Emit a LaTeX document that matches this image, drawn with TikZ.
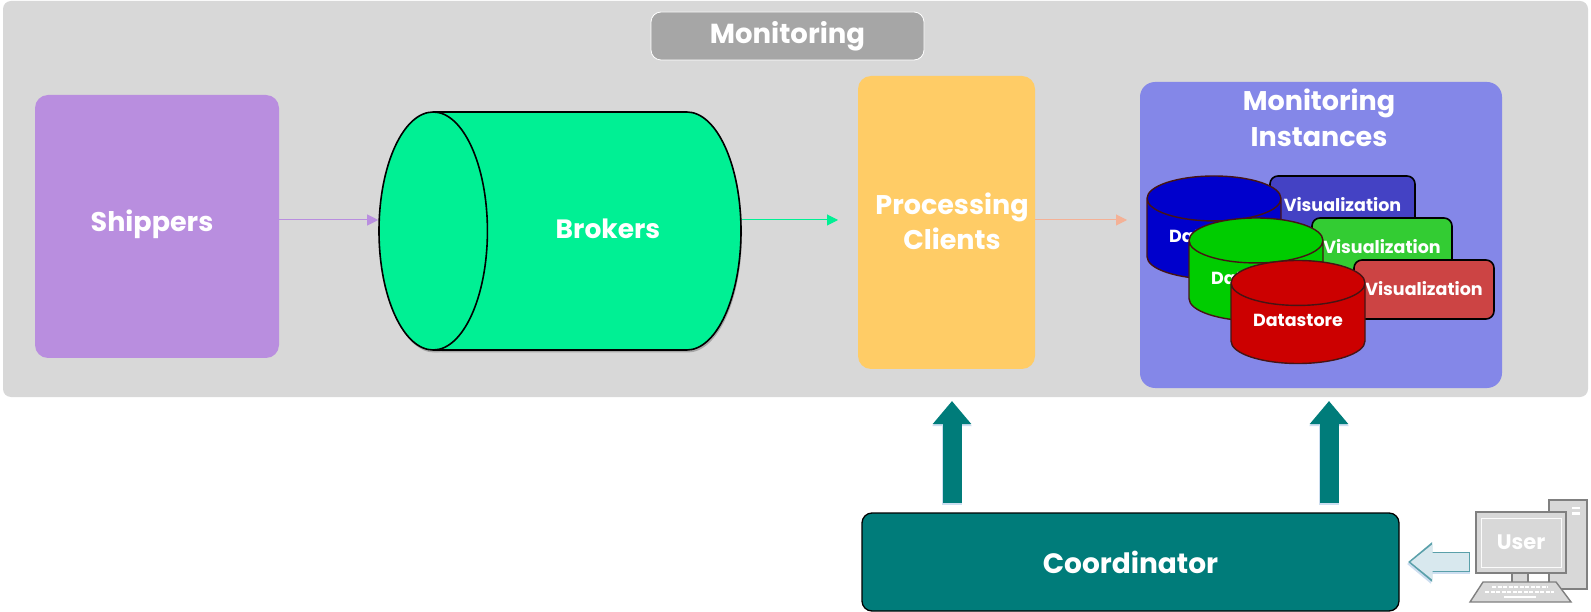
\documentclass[tikz,border=0pt]{standalone}
\usepackage{fontspec}
\setmainfont{Poppins}
\usepackage{tikz}
\usetikzlibrary{
  arrows.meta,
  positioning,
  shapes.geometric
}
\definecolor{panelgray}{RGB}{216,216,216}
\definecolor{taggray}{RGB}{166,166,166}
\definecolor{shipperpurple}{RGB}{185,142,223}
\definecolor{brokergreen}{RGB}{0,240,148}
\definecolor{clientorange}{RGB}{255,204,102}
\definecolor{arroworange}{RGB}{244,177,150}
\definecolor{instanceblue}{RGB}{132,135,232}
\definecolor{coordteal}{RGB}{0,124,122}
\definecolor{paleblue}{RGB}{216,232,238}
\definecolor{shadowblue}{RGB}{205,222,240}
\definecolor{outlineteal}{RGB}{90,160,170}
\definecolor{maroon}{RGB}{70,20,20}
\definecolor{pcgray}{RGB}{128,128,128}
\definecolor{vizblue}{RGB}{68,66,196}
\definecolor{vizgreen}{RGB}{51,204,51}
\definecolor{vizred}{RGB}{204,68,68}
\definecolor{storeblue}{RGB}{0,0,204}
\definecolor{storegreen}{RGB}{0,204,0}
\definecolor{storered}{RGB}{204,0,0}

\begin{document}
\begin{tikzpicture}[
            x=1pt, y=-1pt,
            box/.style={rectangle, inner sep=0pt, outer sep=0pt, align=center, text=white},
            txt/.style={inner sep=0pt, align=center, text=white, font=\fontsize{#1}{35.5}\selectfont\bfseries},
            viz/.style={box, draw=black, line width=1.6pt, rounded corners=8pt, minimum width=140pt, minimum height=59pt, font=\fontsize{17.5}{21}\selectfont\bfseries},
            store/.style={cylinder, shape border rotate=90, aspect=0.5, anchor=shape center, draw=maroon, line width=1.4pt, minimum width=134pt, minimum height=103pt, inner sep=0pt, text=white, cylinder uses custom fill, cylinder body fill=#1, cylinder end fill=#1, font=\fontsize{17.5}{21}\selectfont\bfseries},
            pipe/.style={cylinder, shape border rotate=180, aspect=5.47, anchor=shape center, minimum width=238pt, minimum height=362pt, inner sep=0pt, text=white, cylinder uses custom fill, cylinder body fill=#1, cylinder end fill=#1, font=\fontsize{26.5}{32}\selectfont\bfseries},
            flow/.style={line width=1pt, -{Triangle[length=11pt,width=11pt]}}
        ]
            \useasboundingbox (0,0) rectangle (1591,612);
            % Monitoring panel
            \node[box, fill=panelgray, rounded corners=8pt, minimum width=1585pt, minimum height=396pt] (panel) at (795.5,199) {};
            \node[box, fill=taggray, draw=white, line width=0.8pt, rounded corners=10pt, minimum width=273pt, minimum height=48pt, font=\fontsize{27.5}{32}\selectfont\bfseries] (tag) at (787.5,36) {\raisebox{-1pt}{Monitoring}};
            % Shippers
            \node[box, fill=shipperpurple, rounded corners=13pt, minimum width=244pt, minimum height=263pt] (shippers) at (157,226.5) {};
            \node[txt=27] (shipperstxt) at (152,224) {Shippers};
            % Brokers
            \node[pipe=taggray] (brokersback) at (561,233.5) {\phantom{Brokers}};
            \node[pipe=brokergreen, draw=black, line width=1.6pt] (brokers) at (560,231) {\phantom{Brokers}};
            \node[txt=26.5] (brokerstxt) at (608,229) {Brokers};
            % Processing clients
            \node[box, fill=clientorange, rounded corners=13pt, minimum width=177pt, minimum height=293pt] (clients) at (946.5,222.5) {};
            \node[txt=27] (clientstxt) at (952,221.5) {Processing\\Clients};
            % Monitoring instances
            \node[box, fill=instanceblue, rounded corners=15pt, minimum width=362pt, minimum height=306pt] (instances) at (1321,235) {};
            \node[txt=27] (instancestxt) at (1319,118) {Monitoring\\Instances};
            % Visualization and datastore stacks
            \node[viz, fill=vizblue, minimum width=145pt] (vizb) at (1342.5,205.5) {\raisebox{2pt}{Visualization}};
            \node[store=storeblue] (storeb) at (1214,227.5) {\raisebox{6pt}{Datastore}};
            \node[viz, fill=vizgreen] (vizg) at (1382,247.5) {\raisebox{2pt}{Visualization}};
            \node[store=storegreen] (storeg) at (1256,269.5) {\raisebox{6pt}{Datastore}};
            \node[viz, fill=vizred] (vizr) at (1424,289.5) {\raisebox{2pt}{Visualization}};
            \node[store=storered] (storer) at (1298,312) {\raisebox{6pt}{Datastore}};
            % Thin flow arrows
            \coordinate (flowline) at (0,220);
            \draw[flow, draw=shipperpurple, fill=shipperpurple] (shippers.east |- flowline) -- (brokers.west |- flowline);
            \draw[flow, draw=brokergreen, fill=brokergreen, shorten >=20pt] (brokers.east |- flowline) -- (clients.west |- flowline);
            \draw[flow, draw=arroworange, fill=arroworange, shorten >=13pt] (clients.east |- flowline) -- (instances.west |- flowline);
            % Coordinator
            \node[box, fill=coordteal, draw=black, line width=1.3pt, rounded corners=10pt, minimum width=537pt, minimum height=98pt, font=\fontsize{28}{32}\selectfont\bfseries] (coordinator) at (1130.5,562) {\raisebox{-2pt}{Coordinator}};
            % Block arrows up from the coordinator
            \coordinate (clientsin) at (952,401);
            \coordinate (instancesin) at (1329,401);
            \foreach \target in {clientsin, instancesin} {
                \draw[shadowblue, line width=20pt, shorten <=8pt, -{Triangle[length=23pt,width=38pt]}] (coordinator.north -| \target) -- ([yshift=-2pt]\target);
                \draw[coordteal, line width=19pt, shorten <=10pt, -{Triangle[length=23pt,width=37pt]}] (coordinator.north -| \target) -- (\target);
            }
            % User computer
            \node[box, fill=panelgray, draw=pcgray, line width=1.4pt, minimum width=38pt, minimum height=89pt] (tower) at (1568,544.5) {};
            \draw[white, line width=2.5pt] (1572,508) -- (1580,508);
            \draw[white, line width=2.5pt] (1572,513.5) -- (1580,513.5);
            \node[box, fill=panelgray, draw=pcgray, line width=1.4pt, minimum width=16pt, minimum height=10pt] (neck) at (1520,578) {};
            \node[box, fill=panelgray, draw=pcgray, line width=1.4pt, minimum width=90pt, minimum height=61pt] (monitor) at (1521,542.5) {};
            \node[box, draw=white!90!panelgray, line width=1pt, minimum width=80pt, minimum height=49pt, font=\fontsize{21}{25}\selectfont\bfseries] (screen) at (monitor.center) {User};
            \draw[draw=pcgray, fill=panelgray, line width=1.4pt] (1483,582) -- (1556,582) -- (1571,602) -- (1470,602) -- cycle;
            \foreach \row/\from/\to in {587/1492/1548, 592/1485/1554} {
                \draw[white, line width=2.5pt, dash pattern=on 4pt off 1.5pt] (\from,\row) -- (\to,\row);
            }
            \draw[white, line width=2.5pt] (1504,597) -- (1536,597);
            % Arrow from the user
            \draw[shadowblue, line width=20pt, shorten <=6pt, shorten >=8pt, -{Triangle[length=24pt,width=38pt]}] ([yshift=-2pt]monitor.west |- coordinator.east) -- ([yshift=-2pt]coordinator.east);
            \draw[outlineteal, line width=20pt, shorten <=6pt, shorten >=9pt, -{Triangle[length=24pt,width=38pt]}] (monitor.west |- coordinator.east) -- (coordinator.east);
            \draw[paleblue, line width=18pt, shorten <=7pt, shorten >=11.5pt, -{Triangle[length=22pt,width=34pt]}] (monitor.west |- coordinator.east) -- (coordinator.east);
        \end{tikzpicture}
\end{document}
